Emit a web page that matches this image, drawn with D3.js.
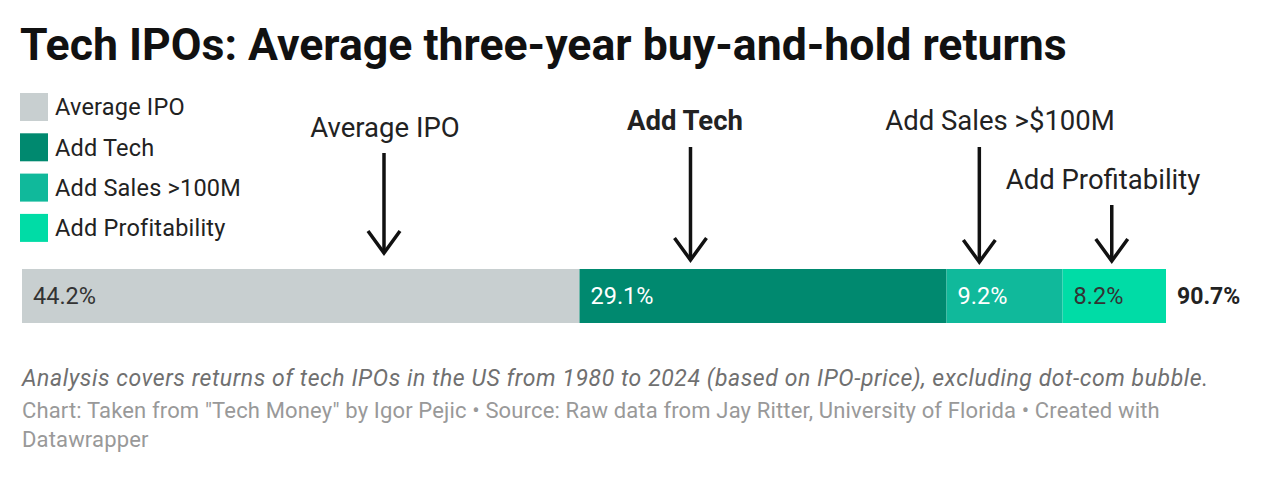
<!DOCTYPE html>
<html>
<head>
<meta charset="utf-8">
<script src="https://cdn.jsdelivr.net/npm/d3@7"></script>
<style>
  body { margin: 0; background: #fff; font-family: Roboto, "Noto Sans", sans-serif; }
</style>
</head>
<body>
<div id="chart"></div>
<script>
// Segment data
const categories = ["Average IPO", "Add Tech", "Add Sales >100M", "Add Profitability"];
const values = [44.2, 29.1, 9.2, 8.2];
const colors = ["#c8cfd0", "#00896f", "#10b99b", "#00dca6"];
const labelColors = ["#333", "#fff", "#fff", "#333"];
const totalLabel = "90.7%";

// Arrow annotations (position in data units along the bar)
const annoText = ["Average IPO", "Add Tech", "Add Sales >$100M", "Add Profitability"];
const annoAt = [28.7, 53.0, 75.9, 86.4];
const annoBold = [false, true, false, false];

const width = 1265, height = 478;

const svg = d3.select("#chart")
    .append("svg")
    .attr("width", width)
    .attr("height", height);

// Title
svg.append("text")
    .attr("x", 20)
    .attr("y", 60)
    .attr("font-size", 44.6)
    .attr("font-weight", 700)
    .attr("fill", "#111")
    .text("Tech IPOs: Average three-year buy-and-hold returns");

// Legend
const legend = svg.append("g");
categories.forEach((c, i) => {
    const y = 93 + i * 40.3;
    legend.append("rect")
        .attr("x", 20).attr("y", y)
        .attr("width", 28).attr("height", 28)
        .attr("fill", colors[i]);
    legend.append("text")
        .attr("x", 55).attr("y", y + 14)
        .attr("dy", "0.35em")
        .attr("font-size", 23.5)
        .attr("letter-spacing", 0.2)
        .attr("fill", "#222")
        .text(c);
});

// Scale
const x = d3.scaleLinear()
    .domain([0, d3.sum(values)])
    .range([22, 1166]);

const starts = d3.cumsum([0].concat(values.slice(0, -1)));
const barY = 269, barH = 54;

// Bar segments
svg.selectAll("rect.seg")
    .data(values)
    .join("rect")
    .attr("class", "seg")
    .attr("x", (d, i) => x(starts[i]))
    .attr("y", barY)
    .attr("width", (d, i) => x(starts[i] + d) - x(starts[i]))
    .attr("height", barH)
    .attr("fill", (d, i) => colors[i]);

svg.selectAll("text.val")
    .data(values)
    .join("text")
    .attr("class", "val")
    .attr("x", (d, i) => x(starts[i]) + 11)
    .attr("y", barY + barH / 2)
    .attr("dy", "0.35em")
    .attr("font-size", 23.5)
    .attr("fill", (d, i) => labelColors[i])
    .text(d => d.toFixed(1) + "%");

svg.append("text")
    .attr("x", x(d3.sum(values)) + 11)
    .attr("y", barY + barH / 2)
    .attr("dy", "0.35em")
    .attr("font-size", 23)
    .attr("font-weight", 700)
    .attr("fill", "#222")
    .text(totalLabel);

// Annotations with arrows
const annoLayout = [
    { tx: 385, ty: 137, top: 153, bottom: 253 },
    { tx: 685, ty: 130, top: 147, bottom: 260 },
    { tx: 1000, ty: 130, top: 147, bottom: 262 },
    { tx: 1103, ty: 189, top: 205, bottom: 261 }
];
annoText.forEach((t, i) => {
    const L = annoLayout[i];
    const ax = x(annoAt[i]);
    svg.append("text")
        .attr("x", L.tx).attr("y", L.ty)
        .attr("text-anchor", "middle")
        .attr("font-size", 27.5)
        .attr("font-weight", annoBold[i] ? 700 : 400)
        .attr("fill", "#222")
        .text(t);
    svg.append("line")
        .attr("x1", ax).attr("x2", ax)
        .attr("y1", L.top).attr("y2", L.bottom)
        .attr("stroke", "#111").attr("stroke-width", 3.5);
    svg.append("path")
        .attr("d", `M${ax - 16},${L.bottom - 22} L${ax},${L.bottom} L${ax + 16},${L.bottom - 22}`)
        .attr("fill", "none")
        .attr("stroke", "#111").attr("stroke-width", 3.5);
});

// Notes
svg.append("text")
    .attr("x", 22).attr("y", 386)
    .attr("font-size", 23)
    .attr("letter-spacing", 0.57)
    .attr("font-style", "italic")
    .attr("fill", "#707070")
    .text("Analysis covers returns of tech IPOs in the US from 1980 to 2024 (based on IPO-price), excluding dot-com bubble.");

svg.append("text")
    .attr("x", 22).attr("y", 418)
    .attr("font-size", 22)
    .attr("letter-spacing", 0.15)
    .attr("fill", "#999")
    .text("Chart: Taken from \"Tech Money\" by Igor Pejic \u2022 Source: Raw data from Jay Ritter, University of Florida \u2022 Created with");

svg.append("text")
    .attr("x", 22).attr("y", 447)
    .attr("font-size", 22)
    .attr("letter-spacing", 0.15)
    .attr("fill", "#999")
    .text("Datawrapper");
</script>
</body>
</html>
